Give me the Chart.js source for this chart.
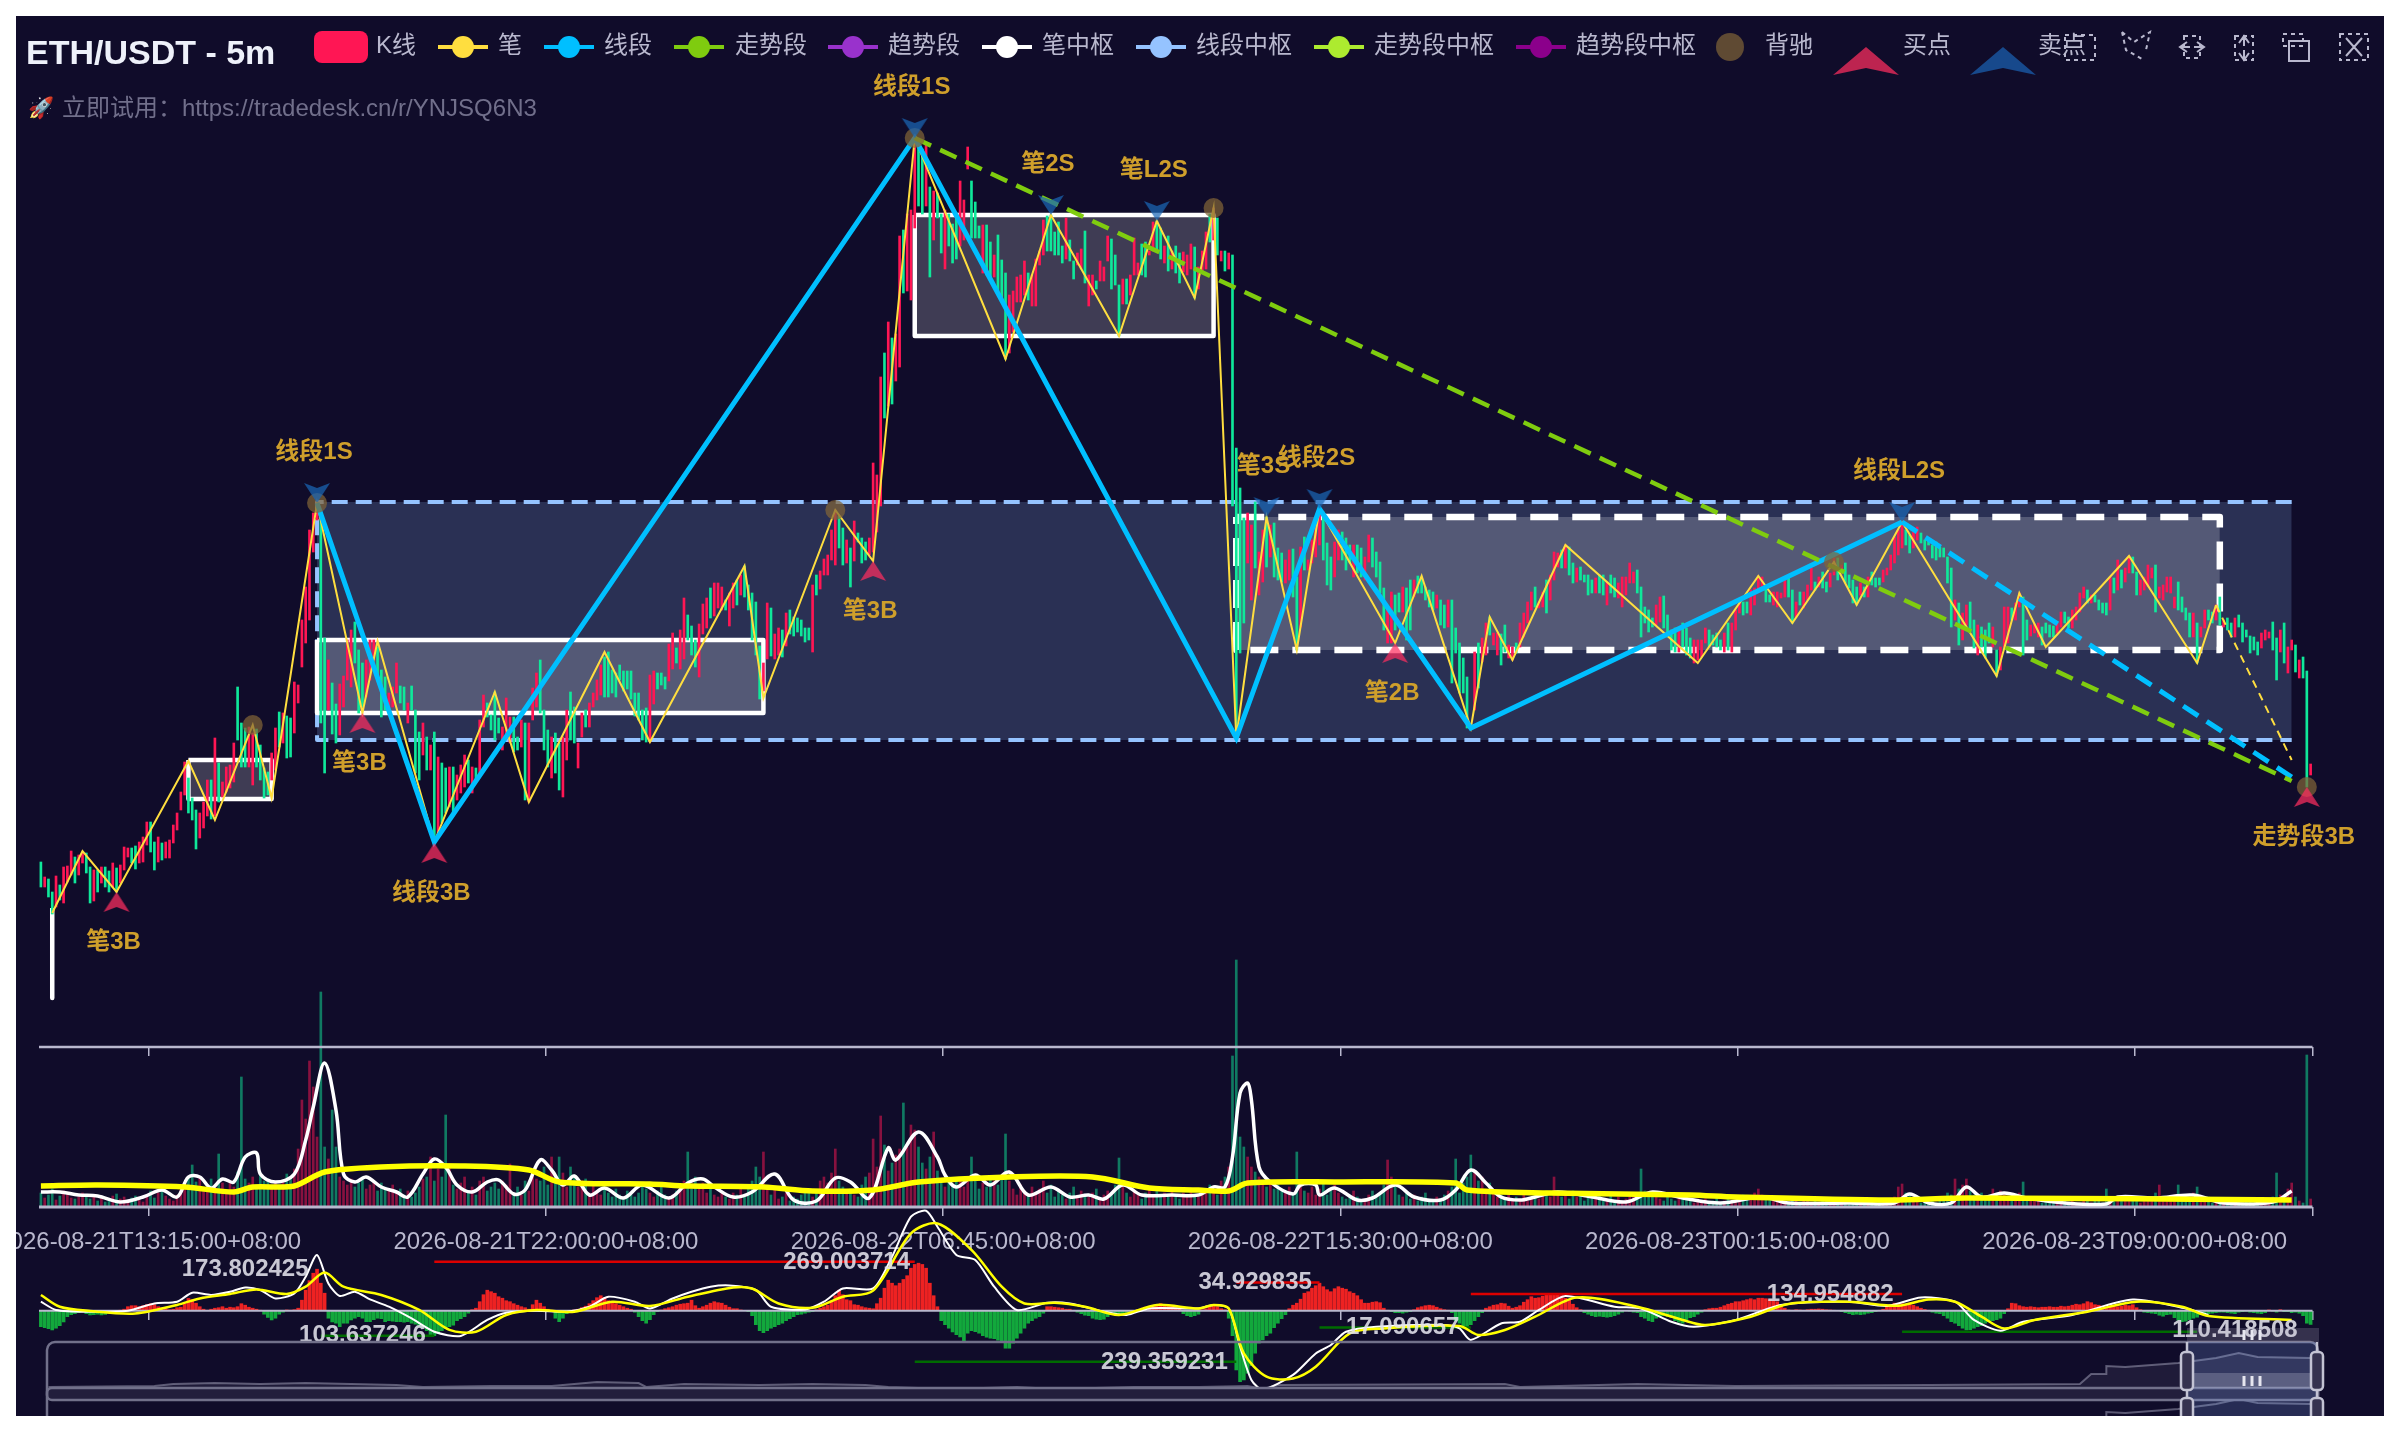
<!DOCTYPE html>
<html><head><meta charset="utf-8">
<style>html,body{margin:0;background:#fff}canvas{position:absolute;left:16px;top:16px}</style>
<script src="https://cdn.jsdelivr.net/npm/chart.js@4"></script></head>
<body><canvas id="c" width="2368" height="1400"></canvas>
<script>
// ---------- candles: flat open,close pairs; each chunk starts at the index in candleStarts
const k0=[138,113,113,123,121,103,108,86,93,124,115,100,97,133,118,134,125,149,143,117,125,145,137,148,147,127,133,97,99,130,130,108,117,133,133,113,129,108,113,137,132,108,117,135,130,153,143,152,152,137,154,131,137,158,138,163,155,178,178,148,158,130,138,163,157,140,142,158,142,160,157,175,170,187,190,208,205,238,222,187,202,180,190,151,162,187,172,198,184,220,220,181,184,262,237,198,203,218,208,233,212,235,218,257,313,260,277,233,272,233,233,273,215,267,271,233,255,220,232,202,228,205,220,247,230,272,288,253,257,287,284,242,282,243,267,318,297,315,333,380,357,413,380,470,448,487];
const k1=[480,497,487,277,362,227,290,340,317,266,296,257,265,316,293,324,320,360,313,370,378,337,350,287,337,293,303,340,320,360,340,360,353,320,330,283,323,290,287,307,293,313,307,337,314,297,313,290,277,297,314,290,290,227,268,220,245,277,263,230,230,255,268,158,167,243,237,177,232,187,193,233,233,187,200,225,207,235,213,245,240,217,207,233,232,220,227,280,273,305,297,283,285,270,308,260,282,267,250,273,262,302,257,283,283,248,263,250,253,280,277,200,198,277,280,312,293,327,340,287,290,250,270,233,222,263,267,227,257,210,203,263,240,290,308,260,293,257,232,257,263,287,290,273,273,297,293,307,300,320,305,335,343,303,348,303,330,307,327,303,328,298];
const k2=[335,320,329,309,329,311,329,301,307,284,307,280,290,260,292,258,258,325,296,329,327,311,327,315,323,311,319,356,331,367,352,337,331,370,341,402,385,360,374,345,360,333,323,376,366,396,372,402,412,382,384,417,392,417,390,413,400,390,374,407,392,417,420,395,405,425];
const k3=[434,403,415,390,407,360,398,345,354,301,309,337,341,397,392,344,341,366,345,372,370,343,354,387,390,366,383,364,382,368,380,364,372,358,372,360,348,415,425,405,411,429,425,441,425,445,440,470];
const k4=[435,490,484,452,472,435,437,460,452,413,439,479,467,458,462,437,458,440,445,462,448,537,468,525,494,623,647,582,594,678,662,596,619,666,633,764,770,707,709,786,700,790];
const k5=[772,862,856,794,851,786,794,856,813,723,760,809,807,782,786,747,731,790,786,754,776,737,782,741,754,819,760,800,831,853,819,762,798,762,774,762,727,775,775,725,758,719,723,745,765,709,740,700];
const k6=[727,641,647,705,668,709,698,723,698,725,705,739,727,700,694,725,694,741,735,749,745,780,784,749,785,749,768,745,778,745,754,737,741,782,760,739,739,721,735,747,731,751,769,717,694,725,705,725,719,711,719,739,719,733,739,764,761,711,745,715];
const k7=[715,664,696,721,721,696,705,725,725,762,725,737,756,725,758,723,745,749,749,778,779,749,772,741,737,754,764,729,731,749,754,727,747,717,728,748,725,745,731,756,753,702,711,733,729,749,731,768,786,758,760,792,782,745,739,749,749,729,731,747,745,494];
const k8=[552,262,512,347,482,377,437,487,400,475,498,432,405,448,418,470,483,433,443,475,477,423,452,420,447,418,417,440,420,450,451,403,423,350,373,453,463,430,430,440,437,460,443,477,455,491,488,440,457,415,443,410,423,458,440,470,468,440,462,430,455,437,423,455,455,427,452,423,420,443,438,465,462,433,448,423,438,407,412,370,357,393,357,408,405,370,407,388,388,413,412,360,420,370,403,420,424,407,423,407,413,400,410,393,408,390,392,405,400,375,395,372,373,400,400,317,372,347,357,307,342,307,323,272];
const k9=[290,348,357,312,338,362,345,377,383,365,355,367,345,367,366,335,375,348,342,355,340,353,357,347,353,377,363,387,377,398,390,408,413,393,392,398,393,408,420,387,400,425,420,448,433,447,450,432,432,455];
const k10=[453,425,437,417,418,432,433,420,425,418,425,405,420,407,407,422,425,407,425,405,395,418,425,407,422,403,402,417,393,423,405,423,417,437,417,428,430,407,413,363,393,377,390,368,382,373,375,395,378,403,404,372,385,363,370,350,372,348,348,370,377,353,372,345,362,342,337,360,340,360,343,360,357,372,370,353,365,355,367,353,360,350,348,367,377,350,348,377,370,390,387,400,398,385,398,387,385,410,395,412,408,424,410,423,413,398,405,398,395,408,393,408];
const k11=[402,407,403,422,422,403,410,377,383,398,408,395,392,408,400,415,410,432,418,410,413,423,428,412,418,408,413,427,425,442,442,420,427,435,437,417,425,412,420,397,413,395,405,417,413,403,403,423,428,415,422,413,422,415,418,430,425,432,430,445,437,463,445,470];
const k12=[452,478,470,455,465,447,452,468,460,473,467,457,460,450,462,455,455,442,458,440,453,443,452,443,443,417,432,373,380,400,397,355,360,387,375,395,398,368,380,352,345,375,373,353,370,342,377,357,353,373,350,324];
const k13=[330,353,353,393,357,393,392,380,380,397,393,407,403,345,380,360,364,375,367,376,363,377,373,355,377,367,375,363,374,363,367,377,373,388,388,377,383,372,372,390,380,393,388,407,402,413,410,397,397,405,405,398,400,390,397,387,397,385,390,423,422,407,410,440,430,412,418,432,427,444];
const k14=[443,427,428,405,405,420,410,423,413,435,422,432,435,388,402,413,400,415,408,423,407,423,392,403,418,390,403,388,392,380,387,363,363,387,377,337,363,373,372,390,390,380,388,377,380,395,403,375,373,380,382,370,377,363,363,382,385,373,377,358,370,363,364,347,363,350,358,345,352,367,360,370,362,368,378,350,362,320,348,370,377,337,327,353,350,360,355,328,322,340,343,322,329,213,225,236];
const candleChunks=[k0,k1,k2,k3,k4,k5,k6,k7,k8,k9,k10,k11,k12,k13,k14];
const candleStarts=[0,73,153,186,210,231,255,285,316,379,404,460,492,518,553];

// ---------- chan-theory structure (bar index, price)
const biI=[3,11,20,39,46,56,61,73,85,89,104,120,129,149,161,186,191,210,220,231,255,267,285,295,305,310,316,324,332,338,358,365,378,383,389,403,438,454,463,474,480,492,517,523,530,552,570,575];
const biP=[87,149,108,239,180,275,202,497,287,359,158,308,198,348,258,434,302,490,439,862,641,785,664,779,702,792,262,483,350,491,357,424,272,383,340,455,337,424,377,438,395,478,324,407,353,444,337,395];
const biOpenI=[575,595];
const biOpenP=[395,240];
const segI=[73,104,231,316,338,378,492];
const segP=[497,158,862,262,491,272,478];
const segOpenI=[492,595];
const segOpenP=[478,223];
const trendI=[231,595];
const trendP=[862,219];
const biZoneFrom=[3,39,73,231];
const biZoneTo=[3,61,191,310];
const biZoneTop=[92,240,360,785];
const biZoneBottom=[2,201,287,664];
const openZoneFrom=316, openZoneTo=576, openZoneTop=483, openZoneBottom=350;
const segZoneFrom=73, segZoneTo=595, segZoneTop=498, segZoneBottom=260;
const buyI=[20,85,104,220,358,599];
const buyP=[108,287,157,439,357,213];
const buyText=['笔3B','笔3B','线段3B','笔3B','笔2B','走势段3B'];
const sellI=[73,231,267,295,324,338,492];
const sellP=[497,862,785,779,483,491,478];
const sellText=['线段1S','线段1S','笔2S','笔L2S','笔3S','线段2S','线段L2S'];
const divI=[56,73,210,231,310,474,599];
const divP=[275,497,490,862,792,438,213];

// ---------- volume
const volume=[14,9,12,18,7,11,16,13,9,8,10,14,12,8,10,6,9,5,7,11,13,8,10,6,9,11,7,5,12,16,9,14,20,11,8,6,12,17,22,30,42,25,30,18,22,28,20,53,24,17,26,20,35,130,28,24,30,22,34,26,28,20,24,18,26,33,30,38,58,107,88,146,120,70,215,60,48,97,60,30,26,22,28,20,24,30,18,22,26,16,24,20,16,22,14,18,12,16,10,14,20,28,30,50,26,38,30,92,40,22,18,24,30,16,20,12,26,30,16,20,24,18,26,22,43,14,20,12,26,16,36,28,26,40,22,50,26,50,34,20,40,32,20,26,28,14,24,16,12,20,14,10,18,12,9,16,12,10,14,22,18,14,10,16,20,12,8,12,16,20,26,55,18,30,22,24,14,18,12,10,16,10,8,14,12,18,10,20,26,40,30,55,20,12,18,8,10,14,6,10,8,12,18,14,10,16,26,30,24,34,58,26,20,14,18,12,10,22,30,34,68,40,91,62,36,44,52,58,104,60,82,77,60,44,38,50,75,36,24,20,30,22,28,26,20,30,50,26,18,24,20,30,26,22,28,73,26,18,12,22,16,12,20,14,18,26,14,22,10,16,12,8,14,20,10,16,12,10,14,18,8,12,16,14,22,49,20,14,10,16,12,8,14,18,10,16,12,14,10,18,12,8,14,10,16,12,10,18,14,22,16,12,26,30,40,151,247,70,60,50,40,35,30,26,20,24,18,22,16,14,20,12,55,24,16,14,20,12,18,26,12,16,22,14,10,8,12,16,10,6,8,12,16,10,14,22,47,30,20,12,10,14,8,12,6,10,14,8,6,10,8,12,16,20,48,14,24,30,52,34,26,30,18,24,14,10,12,8,14,6,10,8,12,6,10,14,8,12,16,10,30,12,10,14,8,16,10,12,6,14,8,10,14,6,8,12,6,10,4,8,10,14,12,38,16,12,10,14,8,6,10,8,6,12,8,10,6,4,8,6,8,4,6,10,4,6,8,4,6,10,12,8,10,14,18,12,8,10,6,8,4,6,4,8,6,4,6,8,4,6,4,8,6,4,6,4,8,6,4,4,6,4,8,4,6,4,6,4,8,6,10,20,23,14,12,8,6,4,8,4,6,4,8,10,14,12,28,18,22,28,16,12,10,14,8,10,18,12,16,14,10,12,8,14,25,10,8,6,10,4,6,4,8,4,6,8,4,6,4,4,6,8,4,6,8,4,18,6,8,10,8,6,10,6,8,4,6,8,10,14,22,8,6,10,12,22,10,8,6,14,20,8,6,10,4,6,8,4,6,4,8,6,4,6,8,4,6,4,8,6,10,34,12,8,18,24,10,6,4,152,8];
const volMA5I=[0,5,10,15,21,27,32,36,39,42,45,48,51,54,57,58,62,67,70,72,75,78,80,83,86,90,94,97,101,104,107,110,114,118,121,125,128,132,135,138,141,145,149,154,159,166,171,175,178,183,188,194,199,205,210,214,219,224,226,232,237,239,242,247,251,256,261,267,272,277,281,286,291,299,306,310,313,315,317,319,320,322,325,331,333,337,338,342,348,352,358,363,370,374,378,382,386,391,395,401,410,419,426,434,444,455,462,478,490,494,499,505,509,513,519,525,535,546,549,559,569,577,590,595];
const volMA5=[15,15,12,11,5,10,17,10,30,30,19,28,25,50,54,33,25,33,67,100,144,97,33,25,30,20,15,10,33,48,40,22,15,25,27,13,17,47,37,22,31,12,19,9,22,9,24,28,20,10,15,33,7,6,29,25,9,59,47,75,50,32,20,32,22,35,12,20,10,12,8,22,12,12,12,20,20,50,114,124,107,40,25,13,22,22,12,19,7,9,22,10,7,17,37,24,10,7,10,15,10,5,15,9,4,10,4,4,4,13,4,4,20,10,14,9,4,3,10,9,12,4,5,16];
const volMA20I=[0,15,38,51,56,67,75,90,111,129,137,161,171,191,204,220,232,256,278,293,306,314,319,343,374,377,399,436,448,489,509,595];
const volMA20=[21,22,20,15,20,21,35,40,41,37,25,23,21,20,16,17,25,30,30,19,17,16,24,25,24,17,14,12,10,7,9,7];

// ---------- MACD
const macdA=[-64,-68,-72,-77,-70,-60,-45,-24,-16,-12,-8,-4,-12,-17,-16,-14,-17,-15,-10,-6,-3,2,6,16,20,20,16,20,24,28,24,16,12,8,4,6,12,14,28,49,44,30,16,6,2,6,10,12,16,10,14,12,16,28,22,14,10,6,2,-14,-27,-37,-30,-14,-6,3,2,4,10,42,82,120,150,166,110,70,-30,-45,-50,-64,-50,-50,-37,-30,-24,-30,-44,-44,-36,-30,-32,-44,-40,-42,-44,-44,-46,-44,-50,-54,-62,-66,-80,-96,-100,-90,-80,-72,-64,-58,-40,-32,-24,-10,4,10,36,64,82,76,70,56,50,40,36,28,22,16,12,6,24,42,30,16,6,2,-30,-44,-30,-12,-4,3,6,12,18,28,40,52,60,53,40,30,28,22,16,10,6,-6,-24,-40,-50,-36,-16,-4];
const macdB=[3,8,12,16,22,26,28,30,42,20,10,16,22,30,36,32,30,22,14,8,8,3,0,-4,-20,-56,-80,-88,-80,-70,-64,-56,-50,-40,-32,-24,-16,-14,-10,-6,-4,4,10,16,22,40,60,82,64,44,40,24,22,16,12,10,8,28,50,90,122,110,100,110,125,140,170,185,190,185,170,110,60,16,-40,-56,-70,-85,-96,-105,-120,-90,-80,-84,-90,-100,-106,-110,-112,-118,-125,-150,-150,-130,-110,-90,-70,-50,-40,-30,-24,-10,16,16,14,12,10,6,6,2,-6,-12,-18,-20,-30,-34,-36,-34,-24,-6,-12,-14,-16,-14,-12,-4,4,10,14,18,20,22,28,24,22,20,12,6,-12,-20,-24,-20,-14,4,8,14,24,16,8,4];
const macdC=[-30,-100,-237,-284,-277,-250,-220,-170,-130,-117,-100,-90,-68,-50,-32,-16,8,22,30,46,70,76,90,100,110,96,84,76,88,96,90,86,76,70,60,44,30,30,34,36,32,10,2,-4,-8,-8,-10,-6,-4,4,12,16,20,22,20,14,8,4,2,-8,-40,-50,-60,-64,-56,-40,-24,-8,10,16,22,24,30,28,18,10,14,20,34,44,56,50,52,58,62,66,67,66,60,50,42,26,12,4,-8,-14,-20,-24,-22,-24,-26,-24,-20,-14,-6,0,-2,-6,-8,-24,-30,-40,-44,-30,-24,-20,-24,-28,-40,-46,-50,-36,-28,-24,-14,-6];
const macdD=[4,8,10,10,14,20,26,30,36,36,40,44,48,44,50,50,48,44,40,36,20,10,3,2,4,3,2,4,6,6,7,6,4,3,2,1,-4,-8,-12,-16,-14,-16,-14,-10,-8,-4,2,6,16,24,30,30,28,24,30,22,16,10,5,2,-6,-10,-12,-20,-30,-44,-50,-60,-70,-77,-76,-70,-64,-60,-50,-44,-40,-36,-30,-12,8,30,28,20,16,14,16,14,12,14,14,16,14,14,18,16,18,22,26,24,28,36,32,24,22,18,16,20,20,16,18,22,20,24,12,4,-6,-8,-10,-12,-18,-22,-16,-14,-28,-38,-44,-42,-36,-30,-26,-16,-10,-12,-10,-8,-6,-6,-8,-10,-12,-6,-4,-2,-6,-8,-10,-12,-8,3,-2,-6,4,-4,-4,-8,-6,-10,-20,-50,-55];
const macdChunks=[macdA,macdB,macdC,macdD];
const macdStarts=[0,164,314,440];
const difI=[0,4,13,23,30,36,40,45,50,54,58,62,67,70,73,76,79,83,87,92,98,104,111,118,123,131,139,145,150,157,161,167,172,177,182,189,193,202,207,212,220,225,230,234,237,242,247,252,258,266,272,281,287,293,306,310,314,317,320,323,331,337,341,345,353,371,375,378,386,391,396,403,416,423,431,437,448,460,478,488,497,506,511,518,524,537,553,567,573];
const dif=[36,3,-4,0,29,36,72,63,76,93,83,49,69,136,223,109,59,76,45,16,-31,-84,-101,-37,-8,0,-4,16,56,36,9,49,76,96,101,83,16,5,36,89,89,216,376,400,336,223,203,96,3,32,29,-4,-17,9,9,23,9,-144,-277,-315,-257,-171,-137,-84,-64,-57,-71,-117,-51,-44,3,59,16,9,-44,-64,-37,23,36,19,53,36,-37,-80,-44,-17,45,9,-17];
const deaI=[0,5,13,25,36,42,50,57,65,70,75,80,90,100,108,115,123,131,141,151,161,171,183,188,195,204,212,220,230,237,246,254,260,268,276,285,295,306,310,314,318,324,331,337,346,355,375,380,387,395,406,422,434,440,452,462,478,491,499,506,513,519,527,541,554,566,573,595];
const dea=[63,16,-1,-11,23,49,67,85,67,96,153,96,63,3,-77,-84,-17,3,-4,36,19,56,93,89,29,12,56,80,309,349,243,96,29,32,16,-17,23,9,23,9,-171,-264,-271,-224,-91,-71,-61,-97,-77,-24,53,16,-37,-57,-24,27,36,20,45,36,-24,-71,-37,-4,36,16,-21,-37];
const markUpFrom=[104,316,378];
const markUpTo=[231,338,492];
const markUpValue=[196,113,67];
const markDownFrom=[74,231,338,492];
const markDownTo=[104,316,378,570];
const markDownValue=[-100,-204,-67,-84];
const macdLabels=['173.802425','269.003714','34.929835','134.954882','103.637246','239.359231','17.090657','110.418508'];
const macdLabelI=[54,213,321,473,85,297,360,580];
const macdLabelV=[166,192,112,64,-98,-206,-66,-78];

// ---------- time axis
const tickIdx=[28.5,133.5,238.5,343.5,448.5,553.5,600.5];
const tickLabels=['2026-08-21T13:15:00+08:00','2026-08-21T22:00:00+08:00','2026-08-22T06:45:00+08:00','2026-08-22T15:30:00+08:00','2026-08-23T00:15:00+08:00','2026-08-23T09:00:00+08:00',''];

// ---------- overview slider shadow
const shadowI=[2,30,35,46,58,70,82,94,101,119,135,147,158,160,170,190,204,218,224,240,258,268,289,306,319,323,327,387,391,422,448,499,539,542,546,546,551,565,569,575,581,586,600];
const shadowS=[29,30,32,33,32,33,32,31,29,30,30,34,33,29,32,31,32,31,29,27,29,27,29,29,30,27,31,32,29,32,30,31,32,42,42,50,49,53,55,58,63,59,58];

// ---------- legend
const legendNames=['K线','笔','线段','走势段','趋势段','笔中枢','线段中枢','走势段中枢','趋势段中枢','背驰','买点','卖点'];
const legendColors=['#ff1654','#ffde3f','#00bfff','#7fcc0f','#9932cc','#ffffff','#95c3ff','#adeb2f','#8b008b','#5f4a33','#bd2450','#17498c'];
const legendIconX=[341,463,569,699,853,1007,1161,1339,1541,1730,1866,2003];
const legendTextX=[376,498,604,735,888,1042,1196,1374,1576,1765,1903,2038];

// ---------- helpers
const FONT='"Liberation Sans","Noto Sans CJK SC",sans-serif';
const RED='#ff1654', GREEN='#0fe89a', BG='#100c2a', AXIS='#b9b8ce';
const zip=(a,b)=>a.map((v,i)=>({x:v,y:b[i]}));
const opens=[],closes=[];
candleChunks.forEach((ch,n)=>{for(let j=0;j<ch.length;j+=2){const i=candleStarts[n]+j/2;opens[i]=ch[j];closes[i]=ch[j+1];}});
const macd=[];
macdChunks.forEach((ch,n)=>ch.forEach((v,j)=>{macd[macdStarts[n]+j]=v;}));
const up=i=>closes[i]>opens[i];

function arrow(color,down){
  const c=document.createElement('canvas');c.width=30;c.height=42;
  const g=c.getContext('2d');g.fillStyle=color;g.beginPath();
  if(down){g.moveTo(2,1);g.lineTo(15,6);g.lineTo(28,1);g.lineTo(15,21);}
  else{g.moveTo(15,21);g.lineTo(28,41);g.lineTo(15,36);g.lineTo(2,41);}
  g.closePath();g.fill();return c;
}
const datasets=[];
const add=d=>{d.order=-datasets.length;d.clip=false;datasets.push(d);};
const line=(data,yAxisID,color,width,extra={})=>add(Object.assign({type:'line',data,yAxisID,xAxisID:'x',borderColor:color,backgroundColor:color,borderWidth:width,pointRadius:0,tension:0,fill:false},extra));
function zone(from,to,top,bottom,stroke,fillC,width,dash,openRight){
  line([{x:from,y:top},{x:to,y:top}],'yK','rgba(0,0,0,0)',0,{fill:{value:bottom},backgroundColor:fillC});
  const pts=openRight?[{x:to,y:top},{x:from,y:top},{x:from,y:bottom},{x:to,y:bottom}]
    :[{x:from,y:top},{x:to,y:top},{x:to,y:bottom},{x:from,y:bottom},{x:from,y:top}];
  line(pts,'yK',stroke,width,{borderDash:dash||[],borderJoinStyle:'round'});
}
// overview shadow
line(zip(shadowI,shadowS),'yS','rgba(185,184,206,.45)',2,{fill:{value:27},backgroundColor:'rgba(185,184,206,.09)'});
line(zip(shadowI,shadowS.map(v=>v-46)),'yS','rgba(185,184,206,.45)',2);
// zones
zone(segZoneFrom,segZoneTo,segZoneTop,segZoneBottom,'#95c3ff','rgba(149,194,255,.2)',4,[16,8],true);
biZoneFrom.forEach((f,n)=>zone(f,biZoneTo[n],biZoneTop[n],biZoneBottom[n],'#ffffff','rgba(255,255,255,.2)',4.5));
zone(openZoneFrom,openZoneTo,openZoneTop,openZoneBottom,'#ffffff','rgba(255,255,255,.2)',6.5,[28,14]);
// candles
const idx=opens.map((_,i)=>i).filter(i=>opens[i]!==undefined);
add({type:'bar',xAxisID:'x',yAxisID:'yK',grouped:false,barThickness:2,borderWidth:0,
  data:idx.map(i=>({x:i,y:[opens[i],closes[i]]})),backgroundColor:idx.map(i=>up(i)?RED:GREEN)});
// chan lines
line(zip(biI,biP),'yK','#ffde3f',2);
line(zip(biOpenI,biOpenP),'yK','#ffde3f',2,{borderDash:[8,6]});
line(zip(segI,segP),'yK','#00bfff',5);
line(zip(segOpenI,segOpenP),'yK','#00bfff',5,{borderDash:[18,10]});
line(zip(trendI,trendP),'yK','#7fcc0f',4.5,{borderDash:[18,10]});
// markers
line(zip(divI,divP),'yK','rgba(129,100,55,.72)',0,{showLine:false,pointRadius:10,pointBackgroundColor:'rgba(129,100,55,.72)',pointBorderWidth:0,pointStyle:'circle'});
const buyImg=arrow('rgba(255,46,96,.72)',false), sellImg=arrow('rgba(26,102,182,.72)',true);
line(zip(buyI,buyP),'yK','#bd2450',0,{showLine:false,pointRadius:10,pointStyle:buyImg});
line(zip(sellI,sellP),'yK','#17498c',0,{showLine:false,pointRadius:10,pointStyle:sellImg});
// volume
add({type:'bar',xAxisID:'x',yAxisID:'yV',grouped:false,barThickness:2,borderWidth:0,
  data:volume.map((v,i)=>({x:i,y:v})),backgroundColor:volume.map((v,i)=>up(i)?'rgba(255,22,84,.5)':'rgba(15,232,154,.5)')});
line([{x:-.5,y:0},{x:600.5,y:0}],'yV',AXIS,3);
line([{x:-.5,y:160},{x:600.5,y:160}],'yV',AXIS,2.5);
line(zip(volMA5I,volMA5),'yV','#ffffff',3.5,{tension:.35});
line(zip(volMA20I,volMA20),'yV','#ffff00',5.5,{tension:.3});
// macd
add({type:'bar',xAxisID:'x',yAxisID:'yM',grouped:false,barThickness:3,borderWidth:0,
  data:macd.map((v,i)=>({x:i,y:v})),backgroundColor:macd.map(v=>v>=0?'#ee2222':'#12a83c')});
line([{x:-.5,y:0},{x:600.5,y:0}],'yM',AXIS,2);
markUpFrom.forEach((f,n)=>line([{x:f,y:markUpValue[n]},{x:markUpTo[n],y:markUpValue[n]}],'yM','#dd0000',2.5));
markDownFrom.forEach((f,n)=>line([{x:f,y:markDownValue[n]},{x:markDownTo[n],y:markDownValue[n]}],'yM','#006b00',2.5));
line(zip(difI,dif),'yM','#ffffff',2,{tension:.25});
line(zip(deaI,dea),'yM','#ffff00',2.5,{tension:.3});

// text, legend and slider chrome (drawn in the picture's own frame, offset 16px)
function text(g,s,x,y,font,color,align){g.font=font;g.fillStyle=color;g.textAlign=align||'left';g.textBaseline='middle';g.fillText(s,x,y);}
function arrowHead(g,x,y,dx,dy){g.moveTo(x+dx*5+dy*5,y+dy*5+dx*5);g.lineTo(x+dx*12,y+dy*12);g.lineTo(x+dx*5-dy*5,y+dy*5-dx*5);g.moveTo(x+dx*12,y+dy*12);g.lineTo(x+dx*2,y+dy*2);}
const chrome={id:'chrome',
 beforeDraw(c){const g=c.ctx;g.save();g.fillStyle=BG;g.fillRect(0,0,c.width,c.height);g.restore();},
 afterDraw(c){
  const g=c.ctx,X=c.scales.x,K=c.scales.yK,M=c.scales.yM;
  // marker labels
  const lab=`bold 24px ${FONT}`,gold='#cf9f2b';
  buyI.forEach((v,n)=>text(g,buyText[n],X.getPixelForValue(v)-3,K.getPixelForValue(buyP[n])+50,lab,gold,'center'));
  sellI.forEach((v,n)=>text(g,sellText[n],X.getPixelForValue(v)-3,K.getPixelForValue(sellP[n])-51,lab,gold,'center'));
  macdLabels.forEach((s,n)=>text(g,s,X.getPixelForValue(macdLabelI[n]),M.getPixelForValue(macdLabelV[n]),lab,'rgba(226,226,236,.88)','center'));
  g.save();g.translate(-16,-16);
  // slider
  const slideL=47,slideR=2318,winL=2187,winR=2317;
  g.strokeStyle='#71708a';g.lineWidth=2.5;
  g.fillStyle='#221e3c';g.beginPath();g.roundRect(slideL,1388,slideR-slideL,12,5);g.fill();g.stroke();
  g.beginPath();g.roundRect(slideL,1342,slideR-slideL,120,8);g.stroke();
  g.fillStyle='rgba(135,175,255,.2)';g.fillRect(winL,1342,winR-winL,74);
  g.fillStyle='rgba(185,184,206,.3)';g.fillRect(winL,1373,winR-winL,15);
  g.fillStyle='rgba(185,184,206,.22)';g.fillRect(winL,1328,winR-winL+2,14);
  g.fillStyle='#e6e6ef';
  [1381,1335].forEach(y=>{[-8,0,8].forEach(d=>g.fillRect((winL+winR)/2+d-1.5,y-5,3,10));});
  [winL,winR].forEach(x=>{[[1352,38],[1398,40]].forEach(([y,h])=>{
    g.fillStyle='#35324f';g.strokeStyle='#c3c3d3';g.lineWidth=2.5;g.beginPath();g.roundRect(x-6,y,12,h,4);g.fill();g.stroke();});
    g.beginPath();g.moveTo(x,1342);g.lineTo(x,1352);g.moveTo(x,1390);g.lineTo(x,1398);g.stroke();});
  // header
  text(g,'ETH/USDT - 5m',26,55,`bold 34px ${FONT}`,'#eef1fa');
  text(g,'🚀',28,109,`21px "Noto Color Emoji",${FONT}`,'#fff');
  text(g,'立即试用：https://tradedesk.cn/r/YNJSQ6N3',62,109,`24px ${FONT}`,'#716f8b');
  // legend
  legendNames.forEach((s,n)=>{
    const x=legendIconX[n],col=legendColors[n];
    g.fillStyle=col;g.strokeStyle=col;
    if(n===0){g.beginPath();g.roundRect(314,31,54,32,8);g.fill();}
    else if(n<9){g.lineWidth=4;g.beginPath();g.moveTo(x-25,47);g.lineTo(x+25,47);g.stroke();g.beginPath();g.arc(x,47,11,0,7);g.fill();}
    else if(n===9){g.beginPath();g.arc(x,47,14,0,7);g.fill();}
    else{g.beginPath();g.moveTo(x,47);g.lineTo(x+33,75);g.lineTo(x,68);g.lineTo(x-33,75);g.closePath();g.fill();}
    text(g,s,legendTextX[n],46,`24px ${FONT}`,AXIS);
  });
  // toolbox icons
  g.strokeStyle=AXIS;g.lineWidth=2;g.setLineDash([4,4]);
  g.strokeRect(2065,35,30,25);
  g.strokeRect(2184,36,16,22);
  g.strokeRect(2235,36,18,24);
  g.strokeRect(2283,34,20,12);
  g.strokeRect(2340,34,28,26);
  g.beginPath();g.moveTo(2122,32);g.lineTo(2126,50);g.lineTo(2144,60);g.moveTo(2122,32);g.lineTo(2134,42);g.lineTo(2150,32);g.lineTo(2146,50);g.stroke();
  g.setLineDash([]);
  g.beginPath();
  arrowHead(g,2192,47,-1,0);arrowHead(g,2192,47,1,0);
  arrowHead(g,2244,48,0,-1);arrowHead(g,2244,48,0,1);
  g.rect(2289,41,20,20);
  g.moveTo(2346,38);g.lineTo(2362,56);g.moveTo(2362,38);g.lineTo(2346,56);
  g.stroke();
  g.restore();
 }};

const XMIN=-6.58,XMAX=619.4,CW=2368,CH=1400;
const xAxis=(yPos,showLabels)=>({type:'linear',axis:'x',min:XMIN,max:XMAX,position:yPos,offset:false,
  afterBuildTicks(s){s.ticks=tickIdx.map(v=>({value:v}));},
  afterFit(s){s.paddingLeft=0;s.paddingRight=0;s.paddingTop=0;s.paddingBottom=0;},
  border:{display:false},
  grid:{offset:false,drawOnChartArea:false,drawTicks:true,tickLength:9,color:AXIS,lineWidth:1.5},
  ticks:{display:showLabels,autoSkip:false,maxRotation:0,minRotation:0,padding:12,color:AXIS,font:{family:FONT,size:24},
    callback(v){return tickLabels[tickIdx.indexOf(v)]??'';}}});
const yAxis=(min,max)=>({type:'linear',axis:'y',display:false,min,max});
const yRanges={yK:[-416,984],yV:[-209,1191],yM:[-421.2,5178.8],yS:[0,1400]};
const scales={x:xAxis({yV:0},true),xT:xAxis({yV:160},false),xM:xAxis({yM:0},false)};
Object.keys(yRanges).forEach(id=>{scales[id]=yAxis(yRanges[id][0],yRanges[id][1]);});

const chart=new Chart(document.getElementById('c'),{
  type:'bar',
  data:{datasets},
  plugins:[chrome],
  options:{responsive:false,animation:false,devicePixelRatio:1,events:[],
    layout:{padding:0},
    plugins:{legend:{display:false},title:{display:false},tooltip:{enabled:false}},
    scales}
});
// the layout keeps a small inset for the axes: widen the scale ranges so values land at full-canvas positions
const a=chart.chartArea;
['x','xT','xM'].forEach(id=>{
  chart.options.scales[id].min=XMIN+a.left*(XMAX-XMIN)/CW;
  chart.options.scales[id].max=XMIN+a.right*(XMAX-XMIN)/CW;
});
Object.keys(yRanges).forEach(id=>{
  const [lo,hi]=yRanges[id];
  chart.options.scales[id].max=hi-a.top*(hi-lo)/CH;
  chart.options.scales[id].min=hi-a.bottom*(hi-lo)/CH;
});
chart.update('none');
</script></body></html>
